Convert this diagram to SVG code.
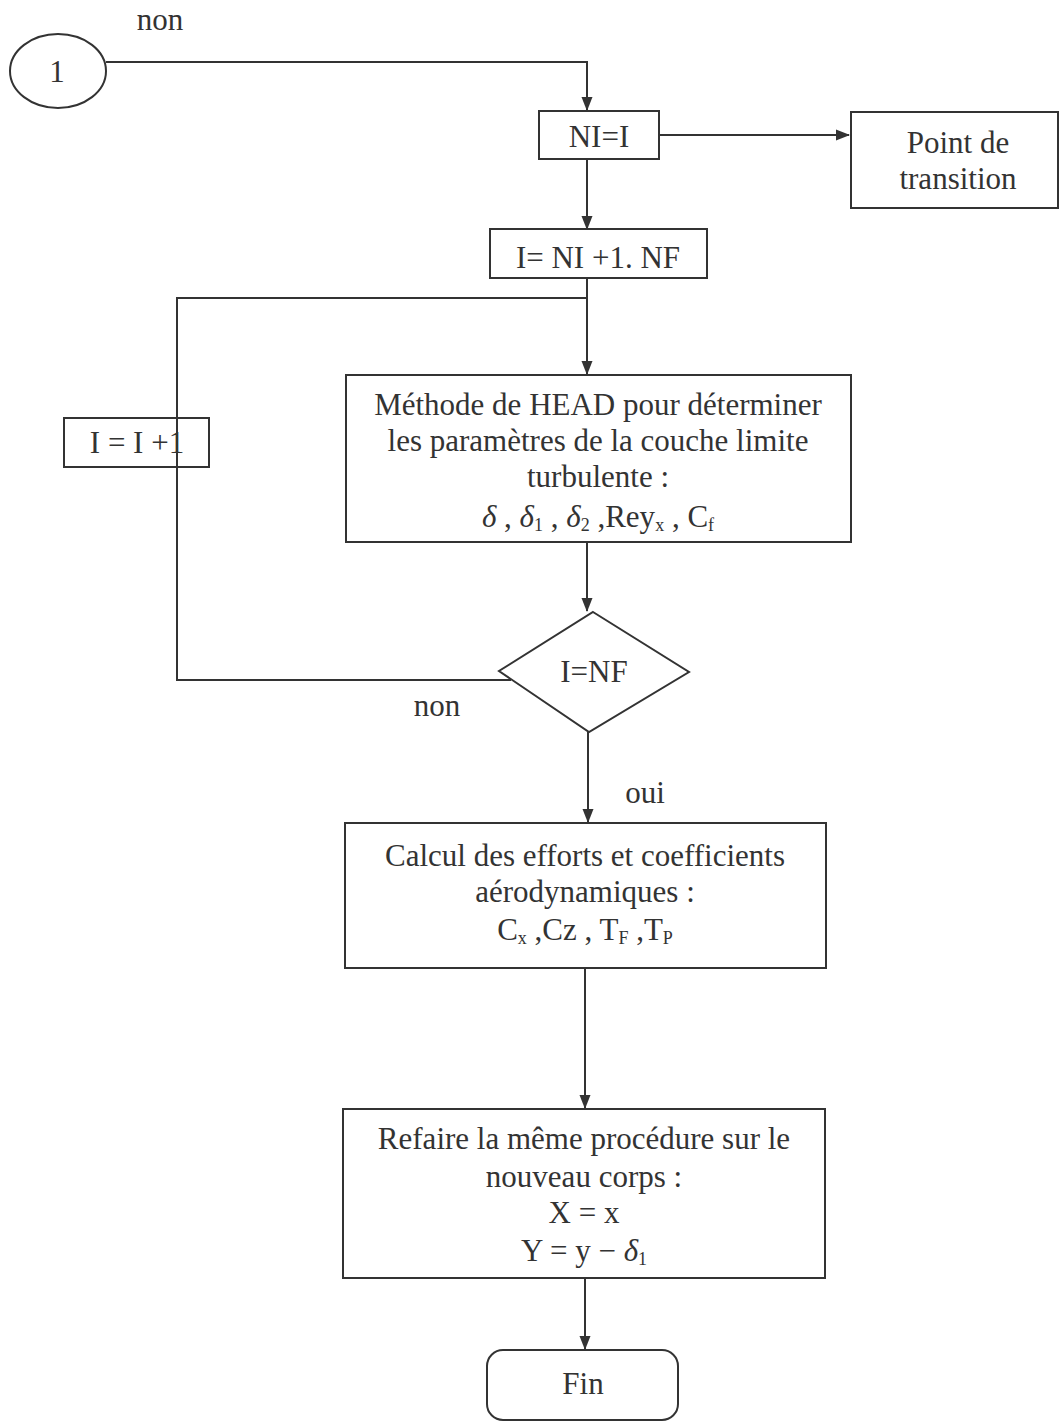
<svg xmlns="http://www.w3.org/2000/svg" width="1061" height="1422" viewBox="0 0 1061 1422">
<defs>
<style>
.box{fill:none;stroke:#333;stroke-width:2}
.ln{fill:none;stroke:#333;stroke-width:2}
.t{font-family:"Liberation Serif","Times New Roman",serif;font-size:31px;fill:#333;text-anchor:middle}
.sub{font-size:18px}
.g{font-style:italic}
</style>
<marker id="ah" markerWidth="14" markerHeight="12" refX="13" refY="6" orient="auto" markerUnits="userSpaceOnUse">
<path d="M0,0.5 L14,6 L0,11.5 Z" fill="#333"/>
</marker>
</defs>
<rect width="1061" height="1422" fill="#fff"/>

<g id="connectors">
<polyline class="ln" points="106,62 587,62 587,110" marker-end="url(#ah)"/>
<line class="ln" x1="659" y1="135" x2="849" y2="135" marker-end="url(#ah)"/>
<line class="ln" x1="587" y1="159" x2="587" y2="229" marker-end="url(#ah)"/>
<line class="ln" x1="587" y1="278" x2="587" y2="374" marker-end="url(#ah)"/>
<polyline class="ln" points="511,680 177,680 177,298 587,298"/>
<line class="ln" x1="587" y1="542" x2="587" y2="611" marker-end="url(#ah)"/>
<line class="ln" x1="588" y1="732" x2="588" y2="822" marker-end="url(#ah)"/>
<line class="ln" x1="585" y1="968" x2="585" y2="1108" marker-end="url(#ah)"/>
<line class="ln" x1="585" y1="1278" x2="585" y2="1349" marker-end="url(#ah)"/>
<text class="t" x="160" y="30">non</text>
<text class="t" x="437" y="716">non</text>
<text class="t" x="645" y="803">oui</text>
</g>

<g id="start">
<ellipse class="box" cx="58" cy="71" rx="48" ry="37"/>
<text class="t" x="57" y="82">1</text>
</g>

<g id="ni">
<rect class="box" x="539" y="111" width="120" height="48"/>
<text class="t" x="599" y="147">NI=I</text>
</g>

<g id="transition">
<rect class="box" x="851" y="112" width="207" height="96"/>
<text class="t" x="958" y="153">Point de</text>
<text class="t" x="958" y="189">transition</text>
</g>

<g id="loopinit">
<rect class="box" x="490" y="229" width="217" height="49"/>
<text class="t" x="598" y="268">I= NI +1. NF</text>
</g>

<g id="incr">
<rect class="box" x="64" y="418" width="145" height="49"/>
<text class="t" x="137" y="453">I = I +1</text>
</g>

<g id="head">
<rect class="box" x="346" y="375" width="505" height="167"/>
<text class="t" x="598" y="415">Méthode de HEAD pour déterminer</text>
<text class="t" x="598" y="451">les paramètres de la couche limite</text>
<text class="t" x="598" y="487">turbulente :</text>
<text class="t" x="598" y="527"><tspan class="g">δ</tspan> , <tspan class="g">δ</tspan><tspan class="sub" dy="4">1</tspan><tspan dy="-4"> , </tspan><tspan class="g">δ</tspan><tspan class="sub" dy="4">2</tspan><tspan dy="-4"> ,Rey</tspan><tspan class="sub" dy="4">x</tspan><tspan dy="-4"> , C</tspan><tspan class="sub" dy="4">f</tspan></text>
</g>

<g id="test">
<polygon class="box" points="593,612 689,672 589,732 499,671"/>
<text class="t" x="594" y="682">I=NF</text>
</g>

<g id="calcul">
<rect class="box" x="345" y="823" width="481" height="145"/>
<text class="t" x="585" y="866">Calcul des efforts et coefficients</text>
<text class="t" x="585" y="902">aérodynamiques :</text>
<text class="t" x="585" y="940">C<tspan class="sub" dy="4">x</tspan><tspan dy="-4"> ,Cz , T</tspan><tspan class="sub" dy="4">F</tspan><tspan dy="-4"> ,T</tspan><tspan class="sub" dy="4">P</tspan></text>
</g>

<g id="refaire">
<rect class="box" x="343" y="1109" width="482" height="169"/>
<text class="t" x="584" y="1149">Refaire la même procédure sur le</text>
<text class="t" x="584" y="1187">nouveau corps :</text>
<text class="t" x="584" y="1223">X = x</text>
<text class="t" x="584" y="1261">Y = y − <tspan class="g">δ</tspan><tspan class="sub" dy="4">1</tspan></text>
</g>

<g id="fin">
<rect class="box" x="487" y="1350" width="191" height="70" rx="16"/>
<text class="t" x="583" y="1394">Fin</text>
</g>
</svg>
